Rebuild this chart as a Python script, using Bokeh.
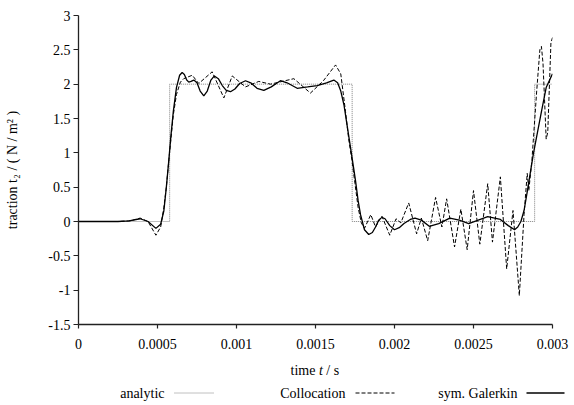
from bokeh.plotting import figure
from bokeh.models import Range1d, FixedTicker
from bokeh.embed import file_html
from bokeh.resources import INLINE
from bokeh.core.properties import value

# ---------------- data ----------------
analytic_t = [0.0, 0.000577, 0.000577, 0.001732, 0.001732, 0.002887, 0.002887, 0.003]
analytic_y = [0.0, 0.0, 2.0, 2.0, 0.0, 0.0, 2.0, 2.0]

galerkin_t = [0.0, 0.00025, 0.00032, 0.00039, 0.00044, 0.00049, 0.00052, 0.00054,
              0.000556, 0.00057, 0.000585, 0.0006, 0.00062, 0.00064, 0.000656,
              0.00067, 0.000685, 0.000698, 0.000712, 0.00073, 0.00075, 0.00077,
              0.000793, 0.000815, 0.000838, 0.00086, 0.000885, 0.00091, 0.000935,
              0.000962, 0.00099, 0.00102, 0.001057, 0.00109, 0.00113, 0.001173,
              0.00122, 0.001278, 0.00132, 0.001384, 0.00145, 0.001511, 0.00157,
              0.001616, 0.00164, 0.00166, 0.00168, 0.0017, 0.00172, 0.00174,
              0.001753, 0.00177, 0.001785, 0.00181, 0.001837, 0.00186, 0.00188,
              0.0019, 0.00192, 0.00194, 0.00197, 0.002, 0.00203, 0.00206,
              0.0021, 0.00213, 0.00217, 0.00222, 0.00228, 0.00235, 0.00241,
              0.00247, 0.00253, 0.00259, 0.00267, 0.00272, 0.00276, 0.00278,
              0.0028, 0.00282, 0.00284, 0.00288, 0.00293, 0.00296, 0.003]
galerkin_y = [0.0, 0.0, 0.01, 0.04, 0.0, -0.10, -0.04, 0.15,
              0.5, 0.85, 1.25, 1.6, 1.95, 2.13, 2.17,
              2.14, 2.06, 2.03, 2.04, 2.06, 2.02, 1.9,
              1.83, 1.9, 2.06, 2.12, 2.08, 1.98, 1.91,
              1.89, 1.93, 2.01, 2.05, 2.02, 1.94, 1.91,
              1.96, 2.05, 2.02, 1.94, 1.96, 1.98, 2.02,
              2.06, 2.02, 1.9, 1.7, 1.4, 1.1, 0.8,
              0.6, 0.3, 0.1, -0.12, -0.19, -0.16, -0.08,
              0.02, 0.06, 0.04, -0.06, -0.12, -0.09, -0.03,
              0.03, 0.05, 0.02, -0.07, -0.03, 0.05, 0.02,
              -0.03, 0.02, 0.07, 0.03, -0.06, -0.12, -0.08,
              0.0, 0.16, 0.43, 1.0, 1.6, 1.95, 2.15]

colloc_t = [0.0, 0.00025, 0.00033, 0.00039, 0.00044, 0.00049, 0.00052, 0.00054,
            0.000556, 0.00057, 0.000585, 0.0006, 0.00062, 0.000645, 0.000666,
            0.00072, 0.000761, 0.000846, 0.00092, 0.000973, 0.001057, 0.001141,
            0.001215, 0.001363, 0.001468, 0.00155, 0.001627, 0.00166, 0.00169,
            0.00171, 0.00173, 0.00175, 0.00177, 0.00179, 0.00181, 0.00185,
            0.00188, 0.00192, 0.00197, 0.00201, 0.00204, 0.00209, 0.00214,
            0.00217, 0.00221, 0.00226, 0.0023, 0.00233, 0.00238, 0.00242,
            0.00246, 0.0025, 0.00254, 0.00259, 0.00262, 0.00267, 0.00271,
            0.00275, 0.00279, 0.00282, 0.00284, 0.00285, 0.00287, 0.0029,
            0.00292, 0.00293, 0.00294, 0.00296, 0.00297, 0.00299, 0.003]
colloc_y = [0.0, 0.0, 0.01, 0.05, 0.0, -0.20, -0.08, 0.2,
            0.5, 0.85, 1.2, 1.55, 1.85, 2.03, 2.08,
            2.13, 2.01, 2.18, 1.8, 2.12, 1.96, 2.04,
            2.0, 2.08, 1.87, 2.05, 2.28, 2.15, 1.6,
            1.2, 0.9, 0.55, 0.2, -0.02, -0.1, 0.1,
            -0.08, 0.08, -0.2, 0.04, -0.02, 0.27, -0.18,
            0.05, -0.28, 0.35, -0.08, 0.33, -0.37, 0.18,
            -0.41, 0.45, -0.33, 0.55, -0.3, 0.65, -0.69,
            0.16, -1.08, 0.1, 0.7, 0.45, 0.9, 1.9,
            2.5, 2.55, 2.3, 1.2, 1.3, 2.6, 2.68]

x_ticks = [0.0, 0.0005, 0.001, 0.0015, 0.002, 0.0025, 0.003]
x_tick_labels = ["0", "0.0005", "0.001", "0.0015", "0.002", "0.0025", "0.003"]
y_ticks = [-1.5, -1.0, -0.5, 0.0, 0.5, 1.0, 1.5, 2.0, 2.5, 3.0]
y_tick_labels = ["-1.5", "-1", "-0.5", "0", "0.5", "1", "1.5", "2", "2.5", "3"]
y_title = "traction t\u2082 / ( N / m\u00b2 )"
x_title_parts = ["time", "t", "/ s"]
legend_labels = ["analytic", "Collocation", "sym. Galerkin"]

FONT = "Liberation Serif"
W = 574
FL, FR, FT, FB = 78, 552, 15, 324
MAIN_H = 360
BOT_H = 405 - MAIN_H

# ---------------- main figure ----------------
p = figure(width=W, height=MAIN_H, x_range=Range1d(0, 0.003), y_range=Range1d(-1.5, 3),
           output_backend="svg", toolbar_location=None,
           min_border_left=FL, min_border_right=W - FR, min_border_top=FT,
           min_border_bottom=MAIN_H - FB)
p.grid.visible = False
p.outline_line_color = None

p.line(analytic_t, analytic_y, line_color="#808080", line_width=1, line_dash="1 1")
p.line(colloc_t, colloc_y, line_color="black", line_width=1, line_dash="4 2")
p.line(galerkin_t, galerkin_y, line_color="black", line_width=1.3)

for ax in (p.xaxis[0], p.yaxis[0]):
    ax.axis_line_color = "#222222"
    ax.axis_line_width = 1.3
    ax.major_tick_line_color = "#222222"
    ax.major_tick_line_width = 1.2
    ax.major_tick_in = 0
    ax.minor_tick_line_color = None
    ax.major_label_text_font = FONT
    ax.major_label_text_font_size = "14px"
    ax.major_label_text_color = "black"

p.xaxis[0].ticker = FixedTicker(ticks=x_ticks)
p.xaxis[0].major_label_overrides = dict(zip(x_ticks, x_tick_labels))
p.xaxis[0].major_tick_out = 4
p.xaxis[0].major_label_standoff = 10

p.yaxis[0].ticker = FixedTicker(ticks=y_ticks)
p.yaxis[0].major_label_overrides = dict(zip(y_ticks, y_tick_labels))
p.yaxis[0].major_tick_out = 5
p.yaxis[0].major_label_standoff = 3
p.yaxis[0].axis_label = y_title
p.yaxis[0].axis_label_text_font = FONT
p.yaxis[0].axis_label_text_font_size = "14px"
p.yaxis[0].axis_label_text_font_style = "normal"
p.yaxis[0].axis_label_text_color = "black"
p.yaxis[0].axis_label_standoff = 25

# ---------------- bottom figure: x title + legend (separate root) ----------------
lg = figure(width=W, height=BOT_H, x_range=Range1d(0, W), y_range=Range1d(0, BOT_H),
            output_backend="svg", toolbar_location=None, min_border=0,
            min_border_left=0, min_border_right=0, min_border_top=0,
            min_border_bottom=0, x_axis_location=None, y_axis_location=None)
lg.grid.visible = False
lg.outline_line_color = None

fs = 14.0
yb = 405 - 370
# starting x of each title piece (spaces between pieces handled by offsets)
x_starts = [290.0, 290.0 + 2.028 * fs, 290.0 + 2.028 * fs + 0.278 * fs + 0.25 * fs]
styles = ["normal", "italic", "normal"]
for part, xs, st in zip(x_title_parts, x_starts, styles):
    lg.text(x=[xs], y=[yb], text=[part], text_align="left", text_baseline="alphabetic",
            text_font=value(FONT), text_font_size="14px", text_font_style=st,
            text_color="black")

ly = 405 - 392.5
lg.text(x=[164, 345, 517], y=[ly, ly, ly], text=legend_labels,
        text_align="right", text_baseline="middle",
        text_font=value(FONT), text_font_size="14px", text_color="black")
lg.line([174, 214], [ly, ly], line_color="#808080", line_width=1, line_dash="1 1")
lg.line([355, 394], [ly, ly], line_color="black", line_width=1, line_dash="4 2")
lg.line([526, 564], [ly, ly], line_color="black", line_width=1.3)

html = file_html([p, lg], INLINE)
html = html.replace("<head>", "<head><style>body{margin:0;padding:0;line-height:0;font-size:0;}</style>", 1)
open("out.html", "w").write(html)
